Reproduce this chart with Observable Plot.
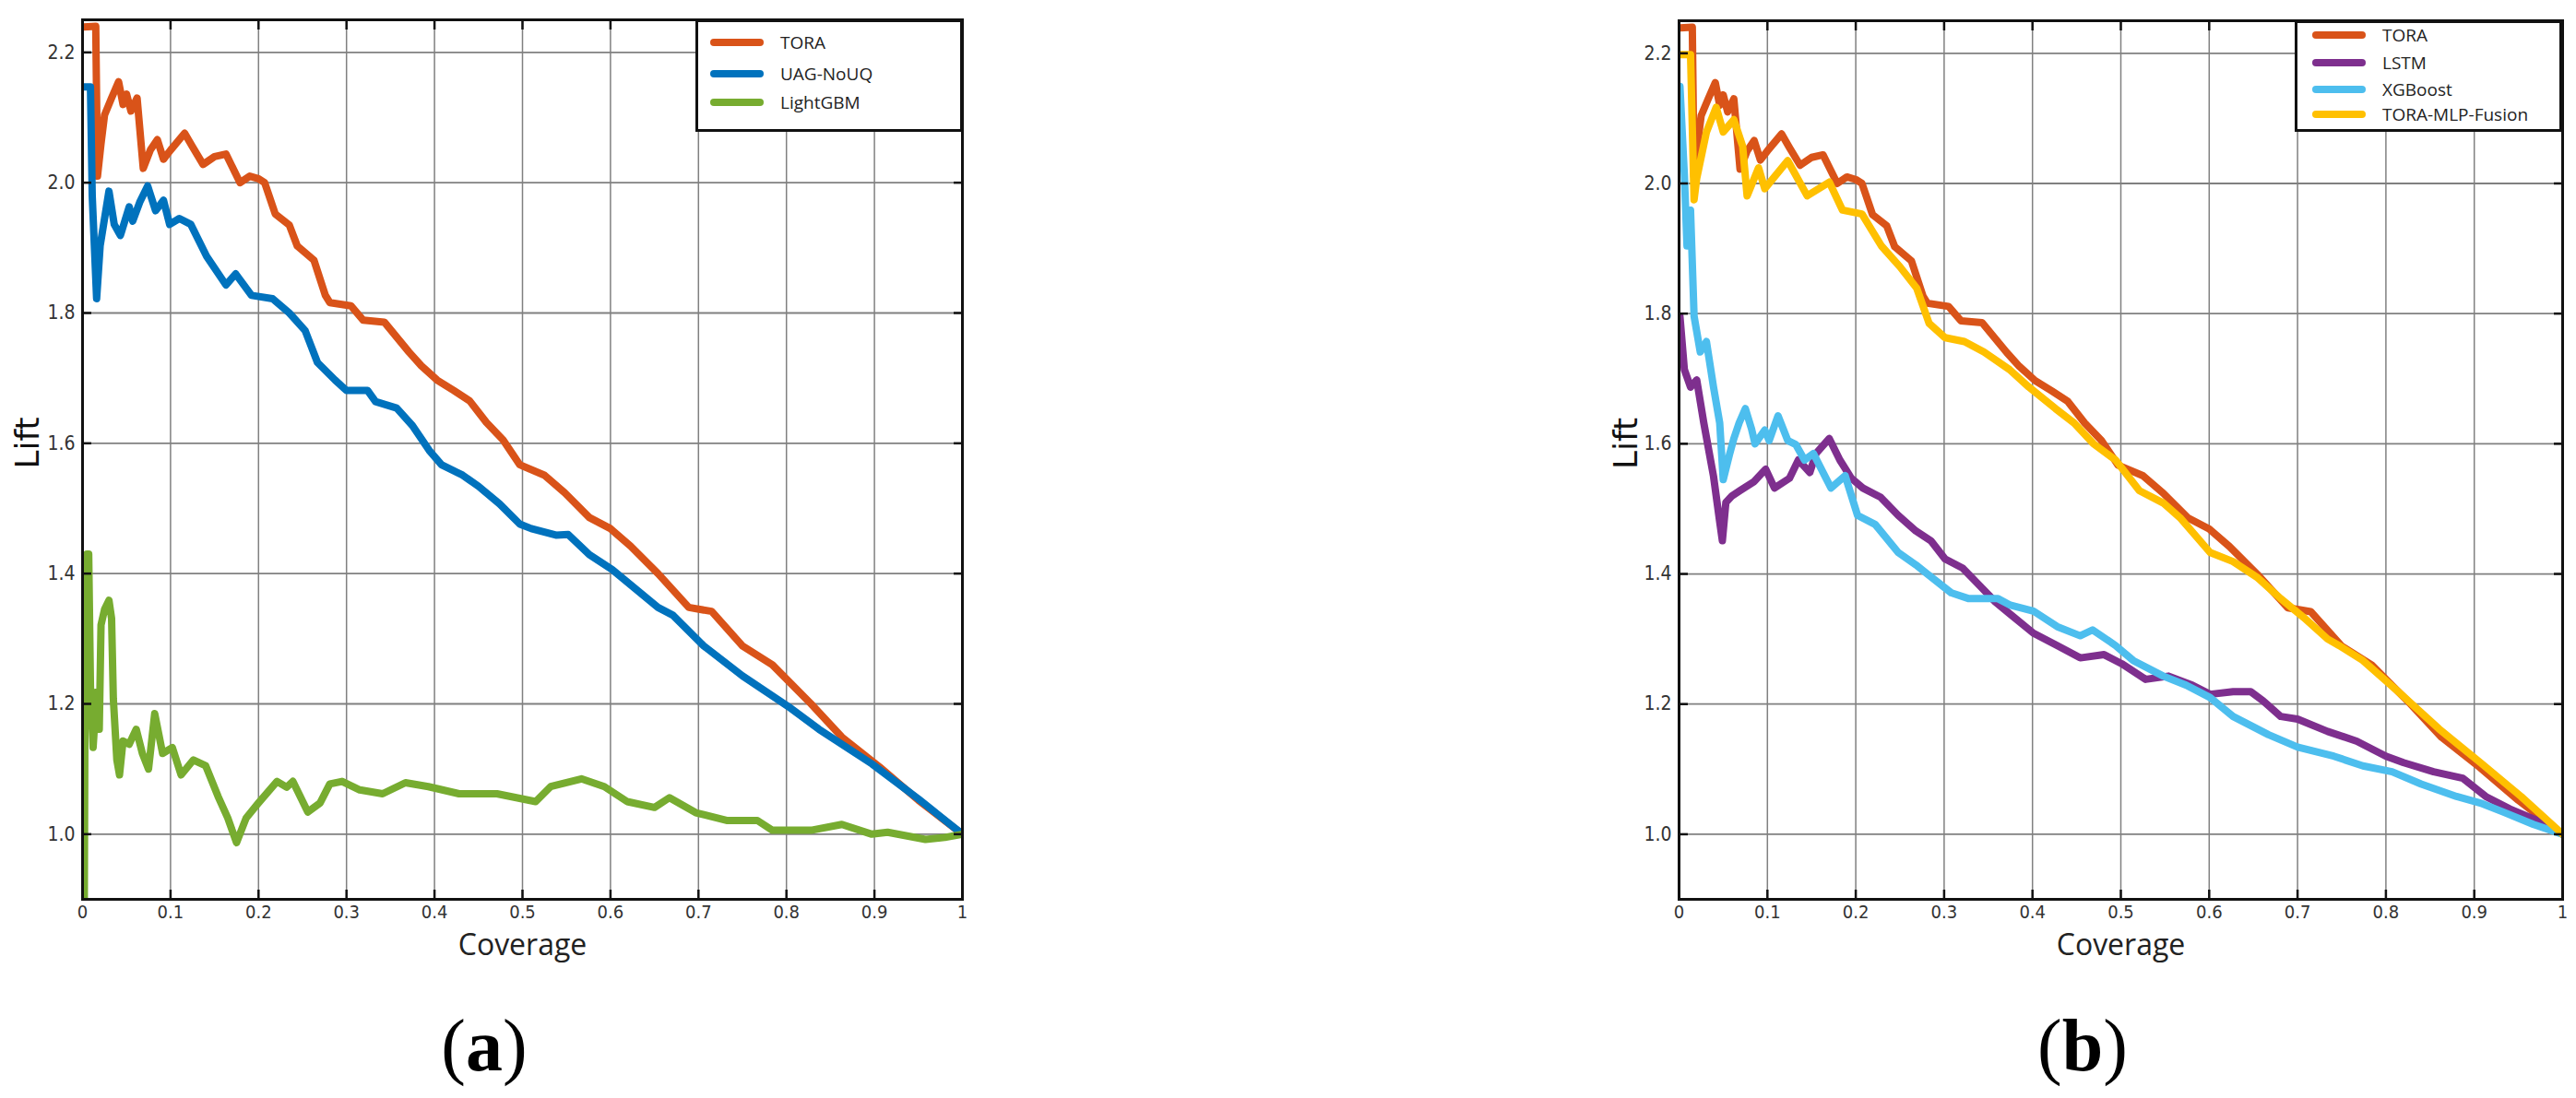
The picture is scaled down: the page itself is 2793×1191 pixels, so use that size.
<!DOCTYPE html>
<html>
<head>
<meta charset="utf-8">
<script src="https://cdn.jsdelivr.net/npm/d3@7"></script>
<script src="https://cdn.jsdelivr.net/npm/@observablehq/plot@0.6"></script>
<style>
  html, body { margin: 0; padding: 0; background: #fff; }
  body { width: 2793px; height: 1191px; position: relative; overflow: hidden; font-family: "Open Sans", sans-serif; }
  .panel { position: absolute; top: 0; }
  .cap { position: absolute; width: 200px; text-align: center; font-family: "Liberation Serif", "DejaVu Serif", serif; font-size: 80px; line-height: 100px; color: #000; }
  .legend { position: absolute; box-sizing: border-box; border: 3px solid #111; background: #fff; }
  .legend .sw { position: absolute; height: 8px; border-radius: 4px; }
  .legend .lb { position: absolute; font-family: "Open Sans", sans-serif; font-size: 19px; line-height: 24px; color: #222; white-space: nowrap; }
</style>
</head>
<body>
<div id="pa" class="panel" style="left:0px"></div>
<div id="pb" class="panel" style="left:1396px"></div>
<div class="cap" style="left:425px; top:1084px">(<b>a</b>)</div>
<div class="cap" style="left:2158px; top:1084px">(<b>b</b>)</div>
<div id="lega" class="legend" style="left:754px; top:21px; width:290px; height:122px"></div>
<div id="legb" class="legend" style="left:2488px; top:22px; width:290px; height:121px"></div>
<script>
// ---------- data: [coverage, lift] ----------
const xTicks = [0, 0.1, 0.2, 0.3, 0.4, 0.5, 0.6, 0.7, 0.8, 0.9, 1];
const xTickLabels = ["0", "0.1", "0.2", "0.3", "0.4", "0.5", "0.6", "0.7", "0.8", "0.9", "1"];
const yTicks = [1.0, 1.2, 1.4, 1.6, 1.8, 2.0, 2.2];
const yTickLabels = ["1.0", "1.2", "1.4", "1.6", "1.8", "2.0", "2.2"];

const TORA = [[0.001,2.239],[0.015,2.24],[0.017,2.01],[0.021,2.06],[0.025,2.104],[0.033,2.13],[0.041,2.155],[0.046,2.12],[0.05,2.136],[0.055,2.11],[0.062,2.13],[0.069,2.022],[0.077,2.05],[0.085,2.066],[0.092,2.036],[0.1,2.05],[0.116,2.076],[0.125,2.055],[0.137,2.028],[0.15,2.04],[0.163,2.044],[0.179,2.0],[0.19,2.01],[0.2,2.006],[0.207,2.0],[0.219,1.952],[0.235,1.935],[0.244,1.903],[0.263,1.881],[0.276,1.827],[0.281,1.816],[0.305,1.811],[0.319,1.789],[0.343,1.786],[0.371,1.74],[0.385,1.719],[0.403,1.697],[0.422,1.681],[0.44,1.665],[0.459,1.632],[0.478,1.605],[0.497,1.567],[0.525,1.551],[0.548,1.524],[0.576,1.486],[0.6,1.469],[0.623,1.442],[0.654,1.4],[0.689,1.348],[0.715,1.342],[0.75,1.289],[0.784,1.26],[0.828,1.2],[0.863,1.149],[0.906,1.103],[0.95,1.052],[1.0,1.0]];

const UAG_NoUQ = [[0.001,2.147],[0.009,2.147],[0.011,1.98],[0.016,1.822],[0.02,1.903],[0.03,1.987],[0.036,1.936],[0.043,1.919],[0.053,1.963],[0.057,1.941],[0.065,1.97],[0.074,1.995],[0.083,1.957],[0.092,1.973],[0.099,1.936],[0.11,1.945],[0.123,1.936],[0.141,1.887],[0.163,1.843],[0.174,1.86],[0.192,1.827],[0.216,1.822],[0.235,1.8],[0.253,1.773],[0.267,1.724],[0.287,1.697],[0.3,1.681],[0.324,1.681],[0.333,1.664],[0.357,1.654],[0.375,1.627],[0.394,1.589],[0.408,1.567],[0.432,1.551],[0.45,1.534],[0.474,1.507],[0.497,1.476],[0.51,1.469],[0.538,1.459],[0.552,1.46],[0.576,1.429],[0.602,1.406],[0.654,1.348],[0.671,1.336],[0.706,1.289],[0.75,1.243],[0.802,1.196],[0.837,1.161],[0.897,1.108],[0.95,1.054],[1.0,1.0]];

const LightGBM = [[0.002,0.9],[0.003,1.288],[0.005,1.43],[0.007,1.43],[0.009,1.227],[0.012,1.133],[0.016,1.218],[0.019,1.161],[0.021,1.321],[0.025,1.345],[0.03,1.359],[0.033,1.331],[0.035,1.208],[0.039,1.114],[0.042,1.091],[0.046,1.143],[0.053,1.138],[0.061,1.161],[0.068,1.124],[0.075,1.1],[0.082,1.185],[0.091,1.124],[0.102,1.133],[0.112,1.091],[0.126,1.114],[0.14,1.105],[0.154,1.058],[0.165,1.025],[0.175,0.987],[0.186,1.025],[0.2,1.048],[0.221,1.081],[0.232,1.072],[0.239,1.081],[0.256,1.034],[0.27,1.048],[0.281,1.077],[0.295,1.081],[0.315,1.068],[0.341,1.062],[0.367,1.079],[0.393,1.073],[0.428,1.062],[0.471,1.062],[0.515,1.05],[0.532,1.073],[0.567,1.085],[0.593,1.073],[0.619,1.05],[0.65,1.041],[0.667,1.056],[0.697,1.033],[0.732,1.021],[0.767,1.021],[0.784,1.006],[0.828,1.006],[0.863,1.015],[0.897,1.0],[0.915,1.003],[0.958,0.992],[0.98,0.995],[1.0,1.0]];

const LSTM = [[0.001,1.796],[0.006,1.714],[0.013,1.687],[0.02,1.698],[0.028,1.632],[0.039,1.55],[0.046,1.48],[0.049,1.451],[0.053,1.51],[0.06,1.52],[0.069,1.528],[0.085,1.542],[0.098,1.561],[0.108,1.532],[0.125,1.547],[0.135,1.575],[0.148,1.556],[0.155,1.585],[0.17,1.608],[0.182,1.575],[0.195,1.547],[0.208,1.532],[0.228,1.518],[0.248,1.49],[0.268,1.466],[0.285,1.451],[0.301,1.423],[0.321,1.409],[0.341,1.381],[0.358,1.357],[0.375,1.338],[0.401,1.309],[0.428,1.29],[0.454,1.271],[0.481,1.276],[0.501,1.262],[0.528,1.238],[0.554,1.243],[0.581,1.229],[0.601,1.215],[0.627,1.219],[0.647,1.219],[0.661,1.205],[0.681,1.181],[0.7,1.177],[0.734,1.158],[0.767,1.143],[0.8,1.12],[0.82,1.11],[0.854,1.096],[0.887,1.086],[0.913,1.058],[0.94,1.039],[0.973,1.02],[1.0,1.0]];

const XGBoost = [[0.001,2.149],[0.006,2.013],[0.009,1.904],[0.013,1.959],[0.017,1.796],[0.024,1.741],[0.031,1.757],[0.039,1.687],[0.046,1.632],[0.05,1.545],[0.057,1.583],[0.062,1.608],[0.068,1.632],[0.075,1.654],[0.082,1.623],[0.086,1.6],[0.097,1.621],[0.102,1.605],[0.112,1.643],[0.123,1.605],[0.132,1.599],[0.142,1.575],[0.152,1.585],[0.172,1.532],[0.188,1.551],[0.202,1.49],[0.222,1.476],[0.248,1.433],[0.268,1.414],[0.281,1.4],[0.308,1.371],[0.328,1.362],[0.361,1.362],[0.375,1.352],[0.401,1.343],[0.428,1.319],[0.454,1.305],[0.468,1.314],[0.494,1.29],[0.514,1.267],[0.548,1.243],[0.574,1.229],[0.601,1.21],[0.627,1.181],[0.667,1.153],[0.7,1.134],[0.741,1.12],[0.774,1.105],[0.807,1.096],[0.84,1.077],[0.88,1.058],[0.907,1.048],[0.933,1.034],[0.967,1.015],[1.0,1.0]];

const TORA_MLP_Fusion = [[0.001,2.198],[0.013,2.198],[0.017,1.975],[0.02,2.008],[0.031,2.079],[0.042,2.117],[0.05,2.079],[0.062,2.098],[0.072,2.057],[0.077,1.981],[0.09,2.024],[0.097,1.992],[0.123,2.035],[0.145,1.981],[0.17,2.002],[0.185,1.959],[0.207,1.953],[0.229,1.904],[0.25,1.872],[0.269,1.839],[0.283,1.785],[0.301,1.763],[0.323,1.757],[0.345,1.741],[0.374,1.714],[0.396,1.687],[0.426,1.654],[0.447,1.632],[0.469,1.6],[0.494,1.575],[0.521,1.528],[0.548,1.509],[0.568,1.485],[0.601,1.433],[0.627,1.419],[0.654,1.395],[0.681,1.362],[0.707,1.333],[0.734,1.3],[0.747,1.29],[0.774,1.267],[0.814,1.219],[0.86,1.162],[0.907,1.11],[0.953,1.058],[1.0,1.0]];

const seriesA = [
  {name: "TORA", color: "#D95319", data: TORA},
  {name: "UAG-NoUQ", color: "#0072BD", data: UAG_NoUQ},
  {name: "LightGBM", color: "#77AC30", data: LightGBM}
];
const seriesB = [
  {name: "TORA", color: "#D95319", data: TORA},
  {name: "LSTM", color: "#7E2F8E", data: LSTM},
  {name: "XGBoost", color: "#4DBEEE", data: XGBoost},
  {name: "TORA-MLP-Fusion", color: "#FFC000", data: TORA_MLP_Fusion}
];

const tickFont = '"DejaVu Sans Condensed", "Liberation Sans Narrow", "Roboto Condensed", sans-serif';

function panel(series, o) {
  const H = 1080;
  const tickStyle = {tickFormat: () => "", label: null, tickSize: -10, stroke: "#111", strokeWidth: 2.5};
  return Plot.plot({
    width: o.width, height: H,
    marginLeft: o.ml, marginRight: o.mr, marginTop: o.mt, marginBottom: H - 975,
    x: {domain: [0, 1]},
    y: {domain: [0.9, 2.25]},
    style: {background: "transparent", overflow: "visible"},
    marks: [
      Plot.gridX(xTicks, {stroke: "#808080", strokeOpacity: 1, strokeWidth: 1.5}),
      Plot.gridY(yTicks, {stroke: "#808080", strokeOpacity: 1, strokeWidth: 1.8}),
      ...series.map(s => Plot.line(s.data, {x: d => d[0], y: d => d[1], stroke: s.color, strokeWidth: 8, strokeLinejoin: "round", strokeLinecap: "round", clip: true})),
      Plot.frame({stroke: "#111", strokeWidth: 3}),
      Plot.axisX(xTicks, {anchor: "bottom", ...tickStyle}),
      Plot.axisX(xTicks, {anchor: "top", ...tickStyle}),
      Plot.axisY(yTicks, {anchor: "left", ...tickStyle}),
      Plot.axisY(yTicks, {anchor: "right", ...tickStyle}),
      Plot.axisX(xTicks, {anchor: "bottom", tickSize: 0, tickPadding: 6, label: null, tickFormat: (d, i) => xTickLabels[i], fontSize: 20, fontFamily: tickFont, fill: "#333"}),
      Plot.axisY(yTicks, {anchor: "left", tickSize: 0, tickPadding: 8, label: null, tickFormat: (d, i) => yTickLabels[i], fontSize: 21, fontFamily: tickFont, fill: "#333"}),
      Plot.text(["Coverage"], {text: d => d, frameAnchor: "bottom", lineAnchor: "middle", textAnchor: "middle", dy: 50, fontSize: 32, fontFamily: "Open Sans, sans-serif", fill: "#222"}),
      Plot.text(["Lift"], {text: d => d, frameAnchor: "left", lineAnchor: "middle", textAnchor: "middle", rotate: -90, dx: o.liftDx, dy: -18, fontSize: 36, fontFamily: "DejaVu Sans, sans-serif", fill: "#111"})
    ]
  });
}

document.getElementById("pa").appendChild(panel(seriesA, {width: 1396, ml: 89, mr: 1396 - 1043, mt: 21, liftDx: -59}));
document.getElementById("pb").appendChild(panel(seriesB, {width: 1397, ml: 1820 - 1396, mr: 2793 - 2778, mt: 22, liftDx: -57}));

function legend(id, series, rows, swLeft, txtLeft) {
  const el = document.getElementById(id);
  series.forEach((s, i) => {
    const sw = document.createElement("div");
    sw.className = "sw";
    sw.style.left = swLeft + "px";
    sw.style.width = "58px";
    sw.style.top = (rows[i] - 4) + "px";
    sw.style.background = s.color;
    el.appendChild(sw);
    const lb = document.createElement("div");
    lb.className = "lb";
    lb.style.left = txtLeft + "px";
    lb.style.top = (rows[i] - 12) + "px";
    lb.textContent = s.name;
    el.appendChild(lb);
  });
}
// row centres relative to the inner box (border 3px)
legend("lega", seriesA, [22, 56, 87], 13, 89);
legend("legb", seriesB, [13, 43, 72, 99], 16, 92);
</script>
</body>
</html>
